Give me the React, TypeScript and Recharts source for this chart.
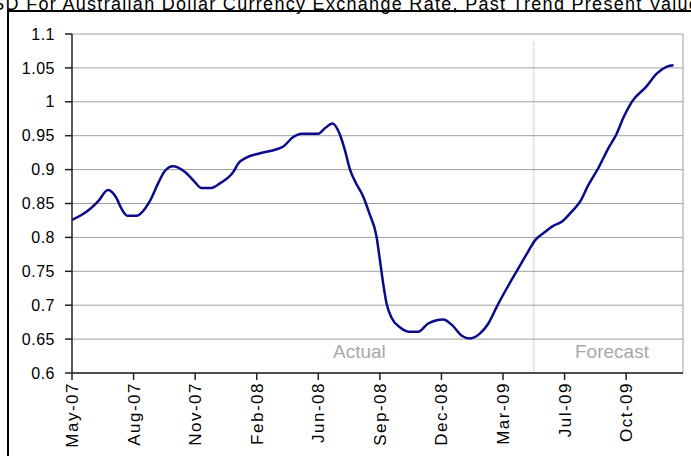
import React from "react";
import { LineChart, Line, XAxis, YAxis, CartesianGrid, ReferenceLine } from "recharts";

// week index since May-07
const weeks = [
  0, 2, 4, 5.5, 7.6, 9.4, 10.4, 11.7, 13.6, 16.4, 18.2, 19.6, 21.3, 23.8, 25.9, 27.3, 29.4, 31.3, 34.1, 35.1,
  36.9, 39.7, 43.2, 44.6, 46.7, 48.5, 52, 53.4, 55, 56.6, 57.6, 58.7, 59.8, 61.5, 62.8, 64.3, 65, 65.7, 66.4,
  67.5, 69.3, 71, 73.1, 75.2, 78.4, 80.2, 82.3, 84, 86.1, 87.9, 89.7, 91.8, 94.2, 96.3, 97.8, 99.5, 101.6,
  103.4, 105.5, 107.3, 109, 111.1, 113.2, 115, 116.5, 118.2, 121.2, 123.5, 125.6, 127,
];
const rates = [
  0.826, 0.833, 0.843, 0.853, 0.87, 0.858, 0.843, 0.832, 0.832, 0.853, 0.88, 0.898, 0.905, 0.897, 0.882, 0.873,
  0.873, 0.88, 0.897, 0.909, 0.918, 0.924, 0.93, 0.934, 0.948, 0.953, 0.953, 0.961, 0.968, 0.951, 0.929, 0.9,
  0.882, 0.86, 0.835, 0.801, 0.767, 0.732, 0.703, 0.681, 0.667, 0.661, 0.661, 0.673, 0.679, 0.671, 0.655, 0.651,
  0.658, 0.673, 0.698, 0.725, 0.754, 0.779, 0.796, 0.806, 0.817, 0.823, 0.838, 0.853, 0.877, 0.902, 0.931,
  0.953, 0.978, 1.0, 1.022, 1.042, 1.052, 1.054,
];

const tickWeeks = [0, 13, 26, 39, 52, 65, 78, 91, 104, 117];
const tickLabels = ["May-07", "Aug-07", "Nov-07", "Feb-08", "Jun-08", "Sep-08", "Dec-08", "Mar-09", "Jul-09", "Oct-09"];
const yTicks = [0.6, 0.65, 0.7, 0.75, 0.8, 0.85, 0.9, 0.95, 1, 1.05, 1.1];

const forecastStart = 97.5;
const lastWeek = 129;

const data = weeks.map((w, i) => ({ w, rate: rates[i] }));

const font = '"Liberation Sans", Arial, sans-serif';

const XTick = (props: any) => {
  const { x, y, payload } = props;
  const i = tickWeeks.indexOf(payload.value);
  return (
    <text
      x={x}
      y={y}
      transform={`rotate(-90, ${x}, ${y})`}
      textAnchor="end"
      dy="0.35em"
      fontSize={17}
      letterSpacing={1.5}
      fill="#000"
      fontFamily={font}
    >
      {tickLabels[i]}
    </text>
  );
};

export default function App() {
  return (
    <div
      style={{
        position: "absolute",
        left: 0,
        top: 0,
        width: 691,
        height: 456,
        overflow: "hidden",
        background: "#fff",
        fontFamily: font,
      }}
    >
      {/* title is cropped by the top edge in the source image */}
      <div
        style={{
          position: "absolute",
          left: -22,
          top: -5,
          fontSize: 18,
          letterSpacing: 1.3,
          lineHeight: "18px",
          whiteSpace: "nowrap",
          color: "#000",
        }}
      >
        USD For Australian Dollar Currency Exchange Rate, Past Trend Present Value
      </div>
      <div
        style={{
          position: "absolute",
          left: 7,
          top: 10,
          width: 710,
          height: 470,
          border: "2px solid #000",
          boxSizing: "border-box",
        }}
      />
      <div style={{ position: "absolute", left: 0, top: 0 }}>
        <LineChart width={691} height={456} data={data} margin={{ top: 34, right: 8, bottom: 0, left: 0 }}>
          <CartesianGrid vertical={false} stroke="#a0a0a0" />
          <XAxis
            dataKey="w"
            type="number"
            domain={[0, lastWeek]}
            ticks={tickWeeks}
            interval={0}
            height={83}
            tickSize={7}
            tickMargin={2}
            axisLine={{ stroke: "#222", strokeWidth: 1.5 }}
            tickLine={{ stroke: "#222", strokeWidth: 1.5 }}
            tick={<XTick />}
            allowDataOverflow
          />
          <YAxis
            type="number"
            domain={[0.6, 1.1]}
            ticks={yTicks}
            interval={0}
            width={72}
            tickSize={7}
            tickMargin={10}
            axisLine={{ stroke: "#222", strokeWidth: 1.5 }}
            tickLine={{ stroke: "#222", strokeWidth: 1.5 }}
            tick={{ fill: "#000", fontSize: 16, fontFamily: font, letterSpacing: 0.5 }}
            tickFormatter={(v: number) => String(v)}
          />
          <ReferenceLine x={lastWeek} stroke="#a0a0a0" />
          <ReferenceLine
            segment={[
              { x: forecastStart, y: 1.088 },
              { x: forecastStart, y: 0.6 },
            ]}
            stroke="#aaaaaa"
            strokeDasharray="1 1"
          />
          <Line
            type="monotone"
            dataKey="rate"
            stroke="#0a0a8a"
            strokeWidth={2.5}
            dot={false}
            isAnimationActive={false}
          />
        </LineChart>
      </div>
      <div style={{ position: "absolute", left: 333, top: 342, fontSize: 19, lineHeight: "19px", color: "#a8a8a8" }}>
        Actual
      </div>
      <div style={{ position: "absolute", left: 575, top: 342, fontSize: 19, lineHeight: "19px", color: "#a8a8a8" }}>
        Forecast
      </div>
    </div>
  );
}
